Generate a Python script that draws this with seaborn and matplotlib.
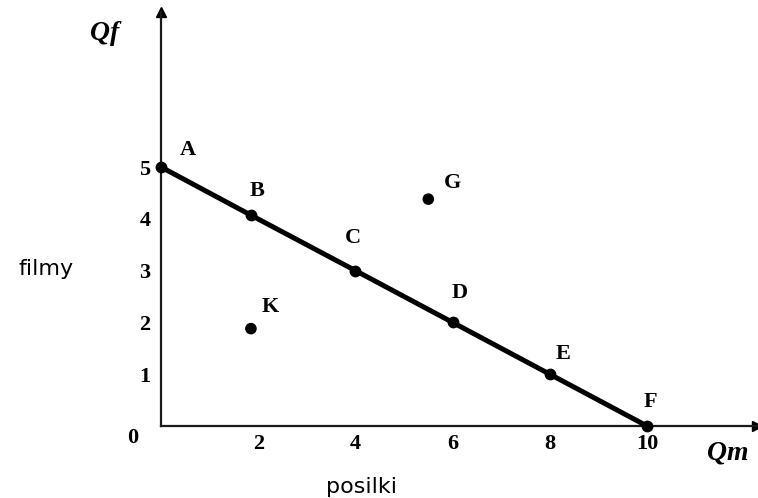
import matplotlib
matplotlib.use("Agg")
import matplotlib.pyplot as plt
import seaborn as sns
import pandas as pd

# Production possibilities frontier points
ppf_labels = ["A", "B", "C", "D", "E", "F"]
ppf_qm = [0, 1.85, 4, 6, 8, 10]
ppf_qf = [5, 4.07, 3, 2, 1, 0]

# Off-frontier points
other_labels = ["G", "K"]
other_qm = [5.5, 1.85]
other_qf = [4.38, 1.88]

x_ticks = [1, 2, 3, 4, 5, 6, 7, 8, 9, 10]
x_tick_labels = ["", "2", "", "4", "", "6", "", "8", "", "10"]
y_ticks = [1, 2, 3, 4, 5]
y_tick_labels = ["1", "2", "3", "4", "5"]

# label offsets in pixels (dx, dy) relative to point
ppf_offsets = [(27, 17), (6, 24), (-2, 33), (7, 29), (13, 20), (3, 24)]
other_offsets = [(24, 16), (19, 22)]

sns.set_style("white")
plt.rcParams["text.color"] = "black"
W, H = 758, 498
fig = plt.figure(figsize=(W / 100, H / 100), dpi=100)
ax = fig.add_axes([161 / W, (H - 426) / H, (757 - 161) / W, (426 - 12) / H])

ppf = pd.DataFrame({"Qm": ppf_qm, "Qf": ppf_qf})
oth = pd.DataFrame({"Qm": other_qm, "Qf": other_qf})

sns.lineplot(data=ppf, x="Qm", y="Qf", ax=ax, color="black", linewidth=3.6,
             marker="o", markersize=8.5, markeredgewidth=0, sort=False,
             clip_on=False, zorder=5)
sns.scatterplot(data=oth, x="Qm", y="Qf", ax=ax, color="black", s=70,
                edgecolor="none", clip_on=False, zorder=5)

ax.set_xlim(0, 596 / 48.6)
ax.set_ylim(0, 414 / 51.8)

for s in ["top", "right"]:
    ax.spines[s].set_visible(False)
for s in ["left", "bottom"]:
    ax.spines[s].set_color("#1a1a1a")
    ax.spines[s].set_linewidth(1.6)

# arrow heads
ax.plot(1, 0, ">", transform=ax.transAxes, color="black", markersize=7, clip_on=False)
ax.plot(0, 1, "^", transform=ax.transAxes, color="black", markersize=7, clip_on=False)

serif_bold = dict(family="Liberation Serif", weight="bold", size=16, color="black")
ax.set_xticks(x_ticks)
ax.set_xticklabels(x_tick_labels, fontdict=serif_bold)
ax.set_yticks(y_ticks)
ax.set_yticklabels(y_tick_labels, fontdict=serif_bold)
ax.tick_params(axis="x", direction="inout", length=8, width=1.3, color="#1a1a1a", pad=2)
ax.tick_params(axis="y", direction="inout", length=11, width=1.3, color="#1a1a1a", pad=2)
ax.set_xlabel("")
ax.set_ylabel("")

k = 0.72
letter_font = dict(family="Liberation Serif", size=16, weight="bold", color="black")
for lab, x, y, (dx, dy) in zip(ppf_labels, ppf_qm, ppf_qf, ppf_offsets):
    ax.annotate(lab, xy=(x, y), xytext=(dx * k, dy * k), textcoords="offset points",
                ha="center", va="center", annotation_clip=False, **letter_font)
for lab, x, y, (dx, dy) in zip(other_labels, other_qm, other_qf, other_offsets):
    ax.annotate(lab, xy=(x, y), xytext=(dx * k, dy * k), textcoords="offset points",
                ha="center", va="center", annotation_clip=False, **letter_font)

ax.annotate("0", xy=(0, 0), xytext=(-28 * k, -12 * k), textcoords="offset points",
            ha="center", va="center", annotation_clip=False, **serif_bold)

fig.text(105 / W, 1 - 34 / H, "Qf", family="Liberation Serif", style="italic",
         weight="bold", size=20, ha="center", va="center")
fig.text(707 / W, 1 - 453 / H, "Qm", family="Liberation Serif", style="italic",
         weight="bold", size=20, ha="left", va="center")
fig.text(46 / W, 1 - 269 / H, "filmy", family="DejaVu Sans", size=16,
         ha="center", va="center")
fig.text(362 / W, 1 - 487 / H, "posilki", family="DejaVu Sans", size=16,
         ha="center", va="center")

fig.savefig("out.png", dpi=100)
